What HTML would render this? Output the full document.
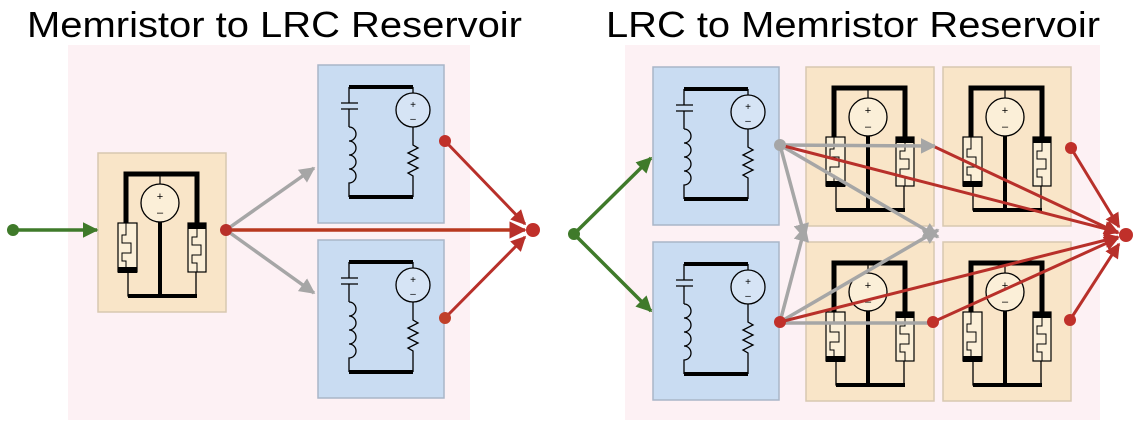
<!DOCTYPE html>
<html><head><meta charset="utf-8"><style>
html,body{margin:0;padding:0;background:#fff;}
svg{display:block;}
text{font-family:"Liberation Sans",sans-serif;}
</style></head><body>
<svg width="1140" height="438" viewBox="0 0 1140 438" xmlns="http://www.w3.org/2000/svg">
<defs>
<g id="mem">
  <rect x="0" y="0" width="128" height="159" fill="#f9e5c8" stroke="#d8c8b0" stroke-width="1.5"/>
  <path d="M28 72 V21 H99 V72" fill="none" stroke="#000" stroke-width="5"/>
  <line x1="62" y1="21" x2="62" y2="31" stroke="#000" stroke-width="1.2"/>
  <circle cx="62" cy="50" r="19" fill="#fbefd8" stroke="#000" stroke-width="1.3"/>
  <text x="62" y="47" font-size="11" text-anchor="middle">+</text>
  <text x="62" y="63" font-size="11" text-anchor="middle">–</text>
  <line x1="62" y1="69" x2="62" y2="144" stroke="#000" stroke-width="4"/>
  <rect x="20" y="70" width="19" height="49" fill="#fbefd8" stroke="#000" stroke-width="1.2"/>
  <rect x="20" y="114" width="19" height="6" fill="#000"/>
  <path d="M28 70 V82 H24 V90 H33 V100 H24 V108 H28 V119" fill="none" stroke="#000" stroke-width="1"/>
  <rect x="90" y="70" width="18" height="49" fill="#fbefd8" stroke="#000" stroke-width="1.2"/>
  <rect x="90" y="70" width="18" height="6" fill="#000"/>
  <path d="M99 76 V84 H94 V92 H103 V102 H94 V110 H99 V119" fill="none" stroke="#000" stroke-width="1"/>
  <path d="M30 119 V143 H98 V119" fill="none" stroke="#000" stroke-width="1.3"/>
  <line x1="30" y1="143" x2="99" y2="143" stroke="#000" stroke-width="4"/>
</g>
<g id="lrc">
  <rect x="0" y="0" width="126" height="158" fill="#c9dcf2" stroke="#a9b6c8" stroke-width="1.5"/>
  <line x1="31" y1="22" x2="95" y2="22" stroke="#000" stroke-width="4"/>
  <line x1="95" y1="132" x2="31" y2="132" stroke="#000" stroke-width="4"/>
  <path d="M31 22 V38 M23 38 H40 M23 44 H40 M31 44 V62" fill="none" stroke="#000" stroke-width="1.3"/>
  <path d="M31 62 a7 7 0 0 1 0 14 a7 7 0 0 1 0 14 a7 7 0 0 1 0 14 a7 7 0 0 1 0 14 V132" fill="none" stroke="#000" stroke-width="1.3"/>
  <path d="M95 22 V28" stroke="#000" stroke-width="1.3"/>
  <circle cx="95" cy="45" r="17" fill="#d6e4f5" stroke="#000" stroke-width="1.3"/>
  <text x="95" y="43" font-size="10" text-anchor="middle">+</text>
  <text x="95" y="57" font-size="10" text-anchor="middle">–</text>
  <path d="M95 62 V80 l5 3 l-10 5 l10 5 l-10 5 l10 5 l-10 5 l5 3 V132" fill="none" stroke="#000" stroke-width="1.3"/>
</g>
<marker id="ag" viewBox="0 0 10 10" refX="9" refY="5" markerWidth="4.5" markerHeight="4.5" orient="auto"><path d="M0 0 L10 5 L0 10 z" fill="#3f7a2a"/></marker>
<marker id="ar" viewBox="0 0 10 10" refX="9" refY="5" markerWidth="5" markerHeight="5" orient="auto"><path d="M0 0 L10 5 L0 10 z" fill="#b8302a"/></marker>
<marker id="ay" viewBox="0 0 10 10" refX="9" refY="5" markerWidth="4.5" markerHeight="4.5" orient="auto"><path d="M0 0 L10 5 L0 10 z" fill="#a6a6a6"/></marker>
</defs>

<rect x="68" y="45" width="402" height="375" fill="#fdf1f4"/>
<rect x="625" y="45" width="475" height="375" fill="#fdf1f4"/>

<text x="27" y="37" font-size="36" textLength="495" lengthAdjust="spacingAndGlyphs">Memristor to LRC Reservoir</text>
<text x="606" y="37" font-size="36" textLength="494" lengthAdjust="spacingAndGlyphs">LRC to Memristor Reservoir</text>

<!-- left panel -->
<use href="#mem" x="98" y="153"/>
<use href="#lrc" x="318" y="65"/>
<use href="#lrc" x="318" y="240"/>
<g stroke-width="3.5" fill="none">
  <line x1="13" y1="230" x2="97" y2="230" stroke="#3f7a2a" marker-end="url(#ag)"/>
  <line x1="226" y1="230" x2="314" y2="168" stroke="#a6a6a6" marker-end="url(#ay)"/>
  <line x1="226" y1="230" x2="314" y2="293" stroke="#a6a6a6" marker-end="url(#ay)"/>
  <line x1="226" y1="230" x2="525" y2="230" stroke="#b8381f" marker-end="url(#ar)"/>
  <line x1="445" y1="141" x2="525" y2="224" stroke="#b8302a" stroke-width="3" marker-end="url(#ar)"/>
  <line x1="445" y1="318" x2="525" y2="237" stroke="#b8302a" stroke-width="3" marker-end="url(#ar)"/>
</g>
<circle cx="13" cy="230" r="6" fill="#3f7a2a"/>
<circle cx="226" cy="230" r="6" fill="#b8302a"/>
<circle cx="445" cy="141" r="6" fill="#c0302a"/>
<circle cx="445" cy="318" r="6" fill="#c0402a"/>
<circle cx="533" cy="230" r="7" fill="#c0302a"/>

<!-- right panel -->
<use href="#lrc" x="653" y="67"/>
<use href="#lrc" x="653" y="242"/>
<use href="#mem" x="806" y="67"/>
<use href="#mem" x="943" y="67"/>
<use href="#mem" x="806" y="242"/>
<use href="#mem" x="943" y="242"/>
<g stroke-width="3.5" fill="none">
  <line x1="574" y1="234" x2="651" y2="158" stroke="#3f7a2a" marker-end="url(#ag)"/>
  <line x1="574" y1="234" x2="651" y2="311" stroke="#3f7a2a" marker-end="url(#ag)"/>
  <line x1="780" y1="145" x2="935" y2="146" stroke="#a6a6a6" marker-end="url(#ay)"/>
  <line x1="780" y1="145" x2="805" y2="238" stroke="#a6a6a6" marker-end="url(#ay)"/>
  <line x1="780" y1="145" x2="938" y2="237" stroke="#a6a6a6" marker-end="url(#ay)"/>
  <line x1="780" y1="322" x2="805" y2="227" stroke="#a6a6a6" marker-end="url(#ay)"/>
  <line x1="780" y1="322" x2="938" y2="230" stroke="#a6a6a6" marker-end="url(#ay)"/>
  <line x1="780" y1="323" x2="933" y2="323" stroke="#a6a6a6"/>
  <g stroke="#b8302a" stroke-width="3">
    <line x1="780" y1="145" x2="1118" y2="232" marker-end="url(#ar)"/>
    <line x1="935" y1="147" x2="1118" y2="233" marker-end="url(#ar)"/>
    <line x1="1071" y1="148" x2="1119" y2="227" marker-end="url(#ar)"/>
    <line x1="780" y1="322" x2="1118" y2="237" marker-end="url(#ar)"/>
    <line x1="933" y1="322" x2="1118" y2="238" marker-end="url(#ar)"/>
    <line x1="1070" y1="320" x2="1119" y2="244" marker-end="url(#ar)"/>
  </g>
</g>
<circle cx="574" cy="234" r="6" fill="#3f7a2a"/>
<circle cx="780" cy="145" r="6" fill="#a6a6a6"/>
<circle cx="780" cy="322" r="6" fill="#c0302a"/>
<circle cx="933" cy="322" r="6" fill="#c0302a"/>
<circle cx="1071" cy="148" r="6" fill="#c0302a"/>
<circle cx="1070" cy="320" r="6" fill="#c0302a"/>
<circle cx="1126" cy="235" r="7" fill="#c0302a"/>
</svg>
</body></html>
